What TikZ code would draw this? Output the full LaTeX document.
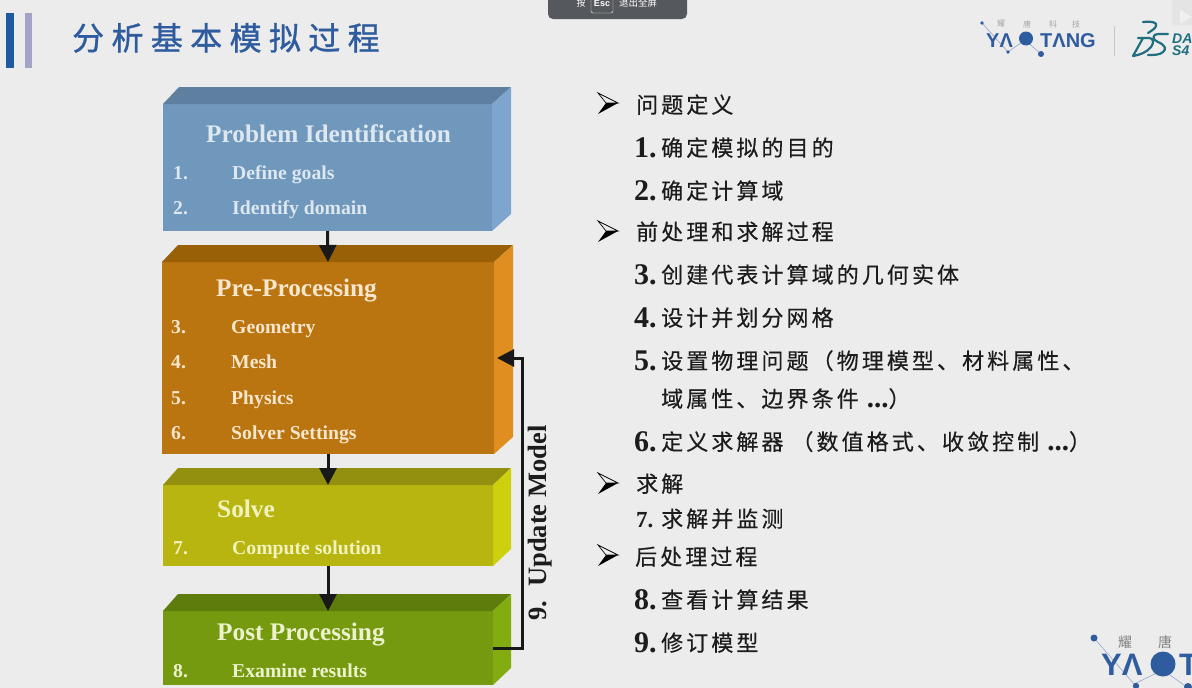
\documentclass[tikz,border=0pt]{standalone}
\usepackage{fontspec}
\usetikzlibrary{arrows.meta,calc}
\setmainfont{Liberation Serif}
\newfontfamily\cjk{Noto Sans CJK SC}
\newfontfamily\cjksp[LetterSpace=14,FakeBold=0.35]{Noto Sans CJK SC}
\newfontfamily\cjkti[LetterSpace=23,FakeBold=1.1]{Noto Sans CJK SC}
\newfontfamily\lsans{Liberation Sans}
\definecolor{bg}{HTML}{ECECEC}
\definecolor{logoblue}{HTML}{2F5C9E}
\definecolor{ink}{HTML}{1C1C1C}
\definecolor{barA}{HTML}{1F5A9E}
\definecolor{barB}{HTML}{A3A3C6}
\definecolor{pill}{HTML}{55585C}
\definecolor{wmark}{HTML}{E4E4E4}
\definecolor{wmarkin}{HTML}{F0F0F0}
\definecolor{aF}{HTML}{7097BC}\definecolor{aT}{HTML}{5F7FA0}\definecolor{aS}{HTML}{7DA5CE}\definecolor{aX}{HTML}{DDE7F0}
\definecolor{bF}{HTML}{BA7410}\definecolor{bT}{HTML}{9A6008}\definecolor{bS}{HTML}{DF8E1F}\definecolor{bX}{HTML}{F6E6CC}
\definecolor{cF}{HTML}{B8B510}\definecolor{cT}{HTML}{93900F}\definecolor{cS}{HTML}{CCD00D}\definecolor{cX}{HTML}{F2F2BE}
\definecolor{dF}{HTML}{769A0F}\definecolor{dT}{HTML}{5E7C0C}\definecolor{dS}{HTML}{82AC10}\definecolor{dX}{HTML}{ECF2CC}
\definecolor{dsteal}{HTML}{1F6F80}
\newcommand{\bigdots}{{\rmfamily\bfseries\fontsize{29}{30}\selectfont ...}}
\tikzset{
  x=1pt,y=-1pt,
  face/.style={inner sep=0pt,outer sep=0pt,fill=#1,anchor=center},
  boxtitle/.style={anchor=base west,inner sep=0pt,font=\bfseries\fontsize{25.3}{28}\selectfont,text=#1},
  boxitem/.style={anchor=base west,inner sep=0pt,font=\bfseries\fontsize{19.7}{22}\selectfont,text=#1},
  rowtext/.style={anchor=base west,inner sep=0pt,text=ink,font=\fontsize{22}{26}\selectfont\cjksp},
  rownum/.style={anchor=base west,inner sep=0pt,text=ink,font=\bfseries\fontsize{30}{32}\selectfont},
  flow/.style={line width=3pt,draw=black!90,-{Triangle[length=17pt,width=17pt]}},
  logoline/.style={line width=0.5pt,draw=logoblue!60},
  dslogo/.style={line width=2.2pt,draw=dsteal,line cap=round,line join=round},
  smallcn/.style={anchor=center,inner sep=0pt,text=gray!70,font=\fontsize{8}{9}\selectfont\cjk},
  logotop/.style={anchor=base west,inner sep=0pt,text=logoblue,font=\bfseries\fontsize{20}{22}\selectfont\lsans},
  logobot/.style={anchor=base west,inner sep=0pt,text=logoblue,font=\bfseries\fontsize{31}{34}\selectfont\lsans},
  dstext/.style={anchor=base west,inner sep=0pt,text=dsteal,font=\bfseries\itshape\fontsize{14}{15}\selectfont\lsans},
}
% front face node, with top and side faces
\newcommand{\slab}[9]{% name cx cy w h front top side dx
  \node[face=#6,minimum width=#4pt,minimum height=#5pt] (#1) at (#2,#3) {};
  \fill[#7] (#1.north west) -- ++(#9,-17) -- ($(#1.north east)+(#9+3,-17)$) -- (#1.north east) -- cycle;
  \fill[#8] (#1.north east) -- ++(#9+3,-17) -- ($(#1.south east)+(#9+3,-17)$) -- (#1.south east) -- cycle;
}
\newcommand{\bulletmark}[1]{%
  \fill[white!85!gray] (598,#1-10) -- (618,#1) -- (606,#1) -- cycle;
  \draw[line width=0.7pt,draw=black] (598,#1-10) -- (618,#1) -- (606,#1) -- cycle;
  \fill[black] (598,#1+11) -- (618,#1) -- (606,#1) -- cycle;
}
\begin{document}
\begin{tikzpicture}
\useasboundingbox (0,0) rectangle (1192,688);
\fill[bg] (0,0) rectangle (1192,688);
\clip (0,0) rectangle (1192,688);

% heading
\fill[barA] (6,13) rectangle (14,68);
\fill[barB] (25,13) rectangle (32,68);
\node[anchor=base west,inner sep=0pt,text=logoblue,font=\fontsize{32}{36}\selectfont\cjkti] (title) at (72,50) {分析基本模拟过程};

% esc hint
\fill[pill,rounded corners=5pt] (548,-12) rectangle (687,19);
\node[anchor=center,inner sep=0pt,text=white,font=\fontsize{9}{10}\selectfont\cjk] (an) at (581,3) {按};
\node[anchor=center,inner sep=1.5pt,draw=white,rounded corners=1.5pt,minimum width=22pt,minimum height=20pt,text=white,font=\bfseries\fontsize{9}{10}\selectfont\lsans] (esc) at (602,3) {Esc};
\node[anchor=center,inner sep=0pt,text=white,font=\fontsize{9.5}{10}\selectfont\cjk] (quit) at (638,3) {退出全屏};

% faint watermark
\fill[wmark,rounded corners=3pt] (1172,-4) rectangle (1196,25);
\fill[wmarkin] (1180,10) -- (1192,17) -- (1180,23) -- cycle;

% top logo
\draw[logoline] (982,23) -- (1008,52) -- (1025,40) -- (1041,54);
\node[smallcn] (lt1) at (1001,24) {耀};
\node[smallcn] (lt2) at (1027,24) {唐};
\node[smallcn] (lt3) at (1053,24) {科};
\node[smallcn] (lt4) at (1076,24) {技};
\node[logotop] (lta) at (986,47) {YΛ};
\node[logotop] (ltb) at (1040,47) {TΛNG};
\fill[logoblue] (1026,38.5) circle (7pt);
\fill[logoblue] (982,23) circle (1.8pt);
\fill[logoblue] (1008,52) circle (1.8pt);
\fill[logoblue] (1041,54) circle (3pt);
\draw[line width=0.6pt,draw=gray!45] (1114,26) -- (1114,56);
\draw[dslogo] (1143,22) .. controls (1150,21) and (1158,22) .. (1156,26) .. controls (1155,29) and (1151,31) .. (1148,33);
\draw[dslogo] (1138,38) -- (1149,38) .. controls (1154,38) and (1154,43) .. (1151,47) .. controls (1147,52) and (1140,55) .. (1133,56) -- (1143,38);
\draw[dslogo] (1168,34) -- (1158,34) .. controls (1152,34) and (1152,40) .. (1158,42) .. controls (1165,45) and (1167,49) .. (1163,52) .. controls (1160,55) and (1154,55) .. (1148,55);
\node[dstext] (dsa) at (1172,43) {DA};
\node[dstext] (dsb) at (1172,55) {S4};

% bottom logo
\draw[logoline] (1094,638) -- (1134,684);
\draw[logoline] (1134,684) -- (1163,670) -- (1188,688);
\node[anchor=center,inner sep=0pt,text=gray,font=\fontsize{14}{15}\selectfont\cjk] (lb1) at (1125,642) {耀};
\node[anchor=center,inner sep=0pt,text=gray,font=\fontsize{14}{15}\selectfont\cjk] (lb2) at (1165,642) {唐};
\node[logobot] (lbm) at (1101,675) {YΛ};
\fill[logoblue] (1163,664) circle (12.5pt);
\node[logobot] (lbt) at (1179,675) {T};
\fill[logoblue] (1094,638) circle (3.5pt);
\fill[logoblue] (1136,686) circle (3.2pt);
\fill[logoblue] (1188,687) circle (4pt);

% blocks
\slab{prob}{327.5}{167.5}{329}{127}{aF}{aT}{aS}{16}
\slab{pre}{328}{358}{332}{192}{bF}{bT}{bS}{16}
\slab{solve}{328}{525.5}{330}{81}{cF}{cT}{cS}{15}
\slab{post}{328}{648}{330}{74}{dF}{dT}{dS}{15}

% block text
\node[boxtitle=aX] (t1) at (206,142) {Problem Identification};
\node[boxitem=aX] (n1) at (173,179) {1.};
\node[boxitem=aX] (i1) at (232,179) {Define goals};
\node[boxitem=aX] (n2) at (173,214) {2.};
\node[boxitem=aX] (i2) at (232,214) {Identify domain};

\node[boxtitle=bX] (t2) at (216,296) {Pre-Processing};
\node[boxitem=bX] (n3) at (171,333) {3.};
\node[boxitem=bX] (i3) at (231,333) {Geometry};
\node[boxitem=bX] (n4) at (171,368) {4.};
\node[boxitem=bX] (i4) at (231,368) {Mesh};
\node[boxitem=bX] (n5) at (171,404) {5.};
\node[boxitem=bX] (i5) at (231,404) {Physics};
\node[boxitem=bX] (n6) at (171,439) {6.};
\node[boxitem=bX] (i6) at (231,439) {Solver Settings};

\node[boxtitle=cX] (t3) at (217,517) {Solve};
\node[boxitem=cX] (n7) at (173,554) {7.};
\node[boxitem=cX] (i7) at (232,554) {Compute solution};

\node[boxtitle=dX] (t4) at (217,640) {Post Processing};
\node[boxitem=dX] (n8) at (173,677) {8.};
\node[boxitem=dX] (i8) at (232,677) {Examine results};

% connectors
\draw[flow] (prob.south) -- (pre.north);
\draw[flow] (pre.south) -- (solve.north);
\draw[flow] (solve.south) -- (post.north);
\coordinate (loop) at (522,648);
\draw[flow,shorten >=3pt] (post.east) -- (loop) |- (pre.east);
\node[rotate=90,anchor=center,inner sep=0pt,text=ink,font=\bfseries\fontsize{26.5}{28}\selectfont] (upd) at (540,523) {9.\hspace{14pt}Update Model};

% right-hand list
\bulletmark{103}
\node[rowtext] (h1) at (636,113) {问题定义};
\node[rownum] (r1n) at (634,157) {1.};
\node[rowtext] (r1) at (661,156) {确定模拟的目的};
\node[rownum] (r2n) at (634,200) {2.};
\node[rowtext] (r2) at (661,199) {确定计算域};
\bulletmark{231}
\node[rowtext] (h2) at (636,240) {前处理和求解过程};
\node[rownum] (r3n) at (634,284) {3.};
\node[rowtext] (r3) at (661,283) {创建代表计算域的几何实体};
\node[rownum] (r4n) at (634,327) {4.};
\node[rowtext] (r4) at (661,326) {设计并划分网格};
\node[rownum] (r5n) at (634,370) {5.};
\node[rowtext] (r5) at (661,369) {设置物理问题（物理模型、材料属性、};
\node[rowtext] (r5b) at (661,407) {域属性、边界条件 \bigdots）};
\node[rownum] (r6n) at (634,451) {6.};
\node[rowtext] (r6) at (661,450) {定义求解器 （数值格式、收敛控制 \bigdots）};
\bulletmark{483}
\node[rowtext] (h3) at (636,492) {求解};
\node[anchor=base west,inner sep=0pt,text=ink,font=\bfseries\fontsize{23}{26}\selectfont] (r7n) at (636,527) {7.};
\node[rowtext] (r7) at (661,527) {求解并监测};
\bulletmark{555}
\node[rowtext] (h4) at (635,565) {后处理过程};
\node[rownum] (r8n) at (634,609) {8.};
\node[rowtext] (r8) at (661,608) {查看计算结果};
\node[rownum] (r9n) at (634,652) {9.};
\node[rowtext] (r9) at (661,651) {修订模型};
\end{tikzpicture}
\end{document}
